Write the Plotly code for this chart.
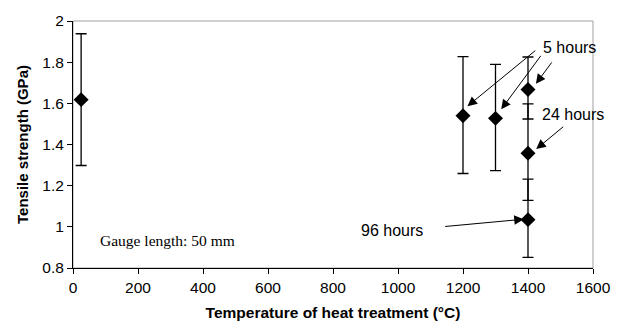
import plotly.graph_objects as go

# Data
temps = [25, 1200, 1300, 1400, 1400, 1400]
strength = [1.618, 1.54, 1.527, 1.667, 1.357, 1.035]
err_plus = [0.32, 0.287, 0.262, 0.158, 0.24, 0.197]
err_minus = [0.32, 0.281, 0.254, 0.143, 0.228, 0.183]

x_ticks = [0, 200, 400, 600, 800, 1000, 1200, 1400, 1600]
y_ticks = [0.8, 1, 1.2, 1.4, 1.6, 1.8, 2]
y_tick_text = ["0.8", "1", "1.2", "1.4", "1.6", "1.8", "2"]

fig = go.Figure()
fig.add_trace(go.Scatter(
    x=temps, y=strength, mode="markers",
    marker=dict(symbol="diamond", size=11.5, color="black"),
    error_y=dict(type="data", symmetric=False, array=err_plus, arrayminus=err_minus,
                 color="black", thickness=1.3, width=5.5),
    showlegend=False, cliponaxis=False,
))

font_ann = dict(family="Liberation Sans, Arial, sans-serif", size=16, color="black")
arrows = [
    # head (x, y), tail (ax, ay)
    (1213.7, 1.586, 1427, 1.862),
    (1317.6, 1.571, 1442.7, 1.838),
    (1424.4, 1.695, 1476.3, 1.806),
    (1425.3, 1.378, 1513, 1.492),
    (1386.9, 1.037, 1140.5, 1.001),
]
for x, y, ax, ay in arrows:
    fig.add_annotation(x=x, y=y, ax=ax, ay=ay, xref="x", yref="y", axref="x", ayref="y",
                       text="", showarrow=True, arrowhead=2, arrowsize=1.9, arrowwidth=1,
                       arrowcolor="black", standoff=0)

labels = [("5 hours", 1528, 1.871), ("24 hours", 1539.5, 1.544), ("96 hours", 981, 0.984)]
for t, x, y in labels:
    fig.add_annotation(x=x, y=y, xref="x", yref="y", text=t, showarrow=False, font=font_ann)

fig.add_annotation(x=290, y=0.933, xref="x", yref="y", text="Gauge length: 50 mm", showarrow=False,
                   font=dict(family="Liberation Serif, Times New Roman, serif", size=15.5, color="black"))

fig.add_shape(type="rect", xref="x domain", yref="y domain", x0=0, x1=1, y0=0, y1=1,
              line=dict(color="#a0a0a0", width=1), layer="below")

fig.update_layout(
    width=623, height=330,
    margin=dict(l=72.5, r=26.5, t=16, b=62),
    paper_bgcolor="white", plot_bgcolor="white",
    font=dict(family="Liberation Sans, Arial, sans-serif", size=15.5, color="black"),
)
fig.update_xaxes(
    range=[0, 1600], tickvals=x_ticks, ticks="outside", ticklen=5, tickcolor="black",
    showline=True, linecolor="black", linewidth=1, showgrid=False, zeroline=False,
    title=dict(text="<b>Temperature of heat treatment (°C)</b>", font=dict(size=15.5), standoff=12),
)
fig.update_yaxes(
    range=[0.8, 2], tickvals=y_ticks, ticktext=y_tick_text, ticks="outside", ticklen=5,
    tickcolor="black", showline=True, linecolor="black", linewidth=1, showgrid=False,
    zeroline=False,
    title=dict(text="<b>Tensile strength (GPa)</b>", font=dict(size=15), standoff=10),
)

fig.write_html("out.html")
